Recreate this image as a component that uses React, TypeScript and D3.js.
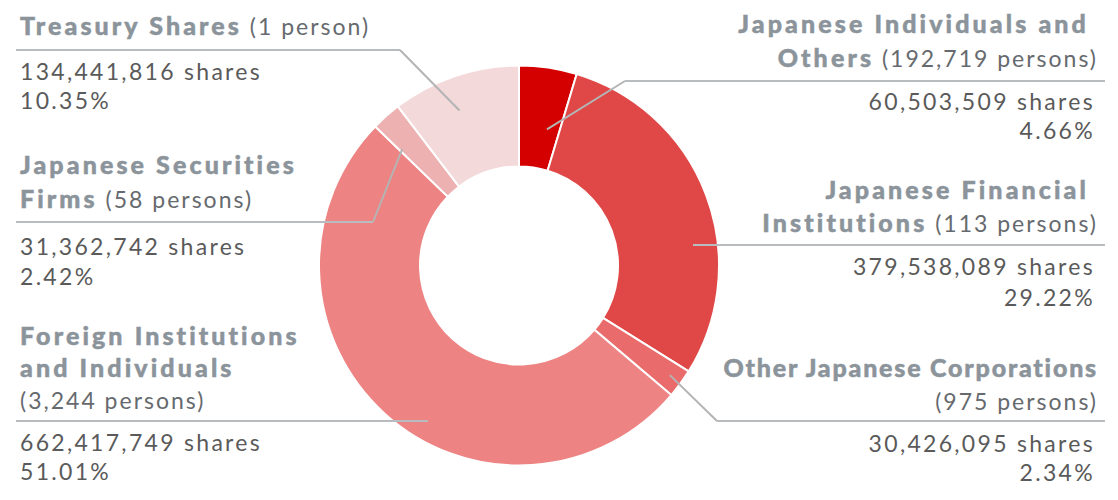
import { useEffect } from "react";
import * as d3 from "d3";

// Shareholder composition (slices run clockwise from 12 o'clock)
const categories = [
  "Japanese Individuals and Others",
  "Japanese Financial Institutions",
  "Other Japanese Corporations",
  "Foreign Institutions and Individuals",
  "Japanese Securities Firms",
  "Treasury Shares",
];
const persons = ["192,719 persons", "113 persons", "975 persons", "3,244 persons", "58 persons", "1 person"];
const shares = [60503509, 379538089, 30426095, 662417749, 31362742, 134441816];
const percents = [4.66, 29.22, 2.34, 51.01, 2.42, 10.35];
const colors = ["#d40000", "#e04848", "#ea6b6b", "#ee8383", "#edb1b1", "#f3d9d9"];

// Label placement (layout only): words on first title line, baselines, rule y, elbow x,
// and leader anchor inside the slice as [angle deg clockwise from top, radius]
type Lbl = {
  side: "left" | "right";
  breakAt: number | null;
  titleY: number[];
  personsY?: number;
  ruleY: number;
  elbowX: number;
  anchor?: [number, number];
  valueY: [number, number];
  tracking?: number;
};
const layout: Lbl[] = [
  { side: "right", breakAt: 3, titleY: [33, 67], ruleY: 81, elbowX: 625, anchor: [11.6, 139], valueY: [110, 139] },
  { side: "right", breakAt: 2, titleY: [199, 232], ruleY: 245, elbowX: 693, valueY: [275, 306] },
  { side: "right", breakAt: null, titleY: [377], personsY: 410, ruleY: 421, elbowX: 717, anchor: [126, 186.5], valueY: [452, 481], tracking: 1.8 },
  { side: "left", breakAt: 2, titleY: [345, 377], personsY: 409, ruleY: 421, elbowX: 428, valueY: [451, 480] },
  { side: "left", breakAt: 2, titleY: [174, 208], ruleY: 222, elbowX: 373, anchor: [315, 165], valueY: [255, 285] },
  { side: "left", breakAt: null, titleY: [35], ruleY: 50, elbowX: 400, anchor: [339, 166], valueY: [80, 109] },
];

const W = 1118, H = 500;
const cx = 519, cy = 265.5;
const rOuter = 200, rInner = 99;
const FONT = "Lato, 'Noto Sans', sans-serif";
const TITLE = "#8c949b", SUB = "#666a6e", VAL = "#5a5a5a", RULE = "#b9bcbf", LEADER = "#b4b4b4";

export default function App() {
  useEffect(() => {
    document.body.style.margin = "0";
  }, []);

  const pie = d3.pie<number>().sort(null).value(d => d);
  const arcs = pie(percents);
  const arc = d3.arc<d3.PieArcDatum<number>>().innerRadius(rInner).outerRadius(rOuter);
  const fmt = d3.format(",");

  return (
    <svg width={W} height={H} style={{ display: "block", fontFamily: FONT }}>
      <g transform={`translate(${cx},${cy})`}>
        {arcs.map((a, i) => (
          <path key={i} d={arc(a) || ""} fill={colors[i]} stroke="#fff" strokeWidth={2} />
        ))}
      </g>

      {layout.map((L, i) => {
        const right = L.side === "right";
        const tx = right ? 1098 : 20;
        const vx = right ? 1095 : 20;
        const anchor = right ? "end" : "start";
        const words = categories[i].split(" ");
        const lines = L.breakAt ? [words.slice(0, L.breakAt).join(" ") + (right ? " " : ""), words.slice(L.breakAt).join(" ")] : [categories[i]];
        const personsText = `(${persons[i]})`;
        const tracking = L.tracking ?? 3.1;

        const ruleX1 = right ? L.elbowX : 16;
        const ruleX2 = right ? 1105 : L.elbowX;
        let leader: string | null = null;
        if (L.anchor) {
          const t = (L.anchor[0] * Math.PI) / 180;
          const ax = cx + L.anchor[1] * Math.sin(t);
          const ay = cy - L.anchor[1] * Math.cos(t);
          leader = `M${ax},${ay}L${L.elbowX},${L.ruleY}`;
        }

        return (
          <g key={i}>
            {lines.map((ln, j) => {
              const last = j === lines.length - 1;
              return (
                <text key={j} x={tx} y={L.titleY[j]} textAnchor={anchor} style={{ whiteSpace: "pre" }}>
                  <tspan fontSize={25} fontWeight={900} fill={TITLE} stroke={TITLE} strokeWidth={0.5} letterSpacing={tracking}>{ln}</tspan>
                  {last && L.personsY === undefined && (
                    <tspan fontSize={23} fontWeight={400} fill={SUB} letterSpacing={2}>{" " + personsText}</tspan>
                  )}
                </text>
              );
            })}
            {L.personsY !== undefined && (
              <text x={tx} y={L.personsY} textAnchor={anchor} fontSize={23} fill={SUB} letterSpacing={2}>
                {personsText}
              </text>
            )}
            <line x1={ruleX1} x2={ruleX2} y1={L.ruleY} y2={L.ruleY} stroke={RULE} strokeWidth={2} />
            {leader && <path d={leader} fill="none" stroke={LEADER} strokeWidth={2} />}
            <text x={vx} y={L.valueY[0]} textAnchor={anchor} fontSize={23} fill={VAL} letterSpacing={2.3}>
              {`${fmt(shares[i])} shares`}
            </text>
            <text x={vx} y={L.valueY[1]} textAnchor={anchor} fontSize={23} fill={VAL} letterSpacing={2.3}>
              {`${percents[i].toFixed(2)}%`}
            </text>
          </g>
        );
      })}
    </svg>
  );
}
